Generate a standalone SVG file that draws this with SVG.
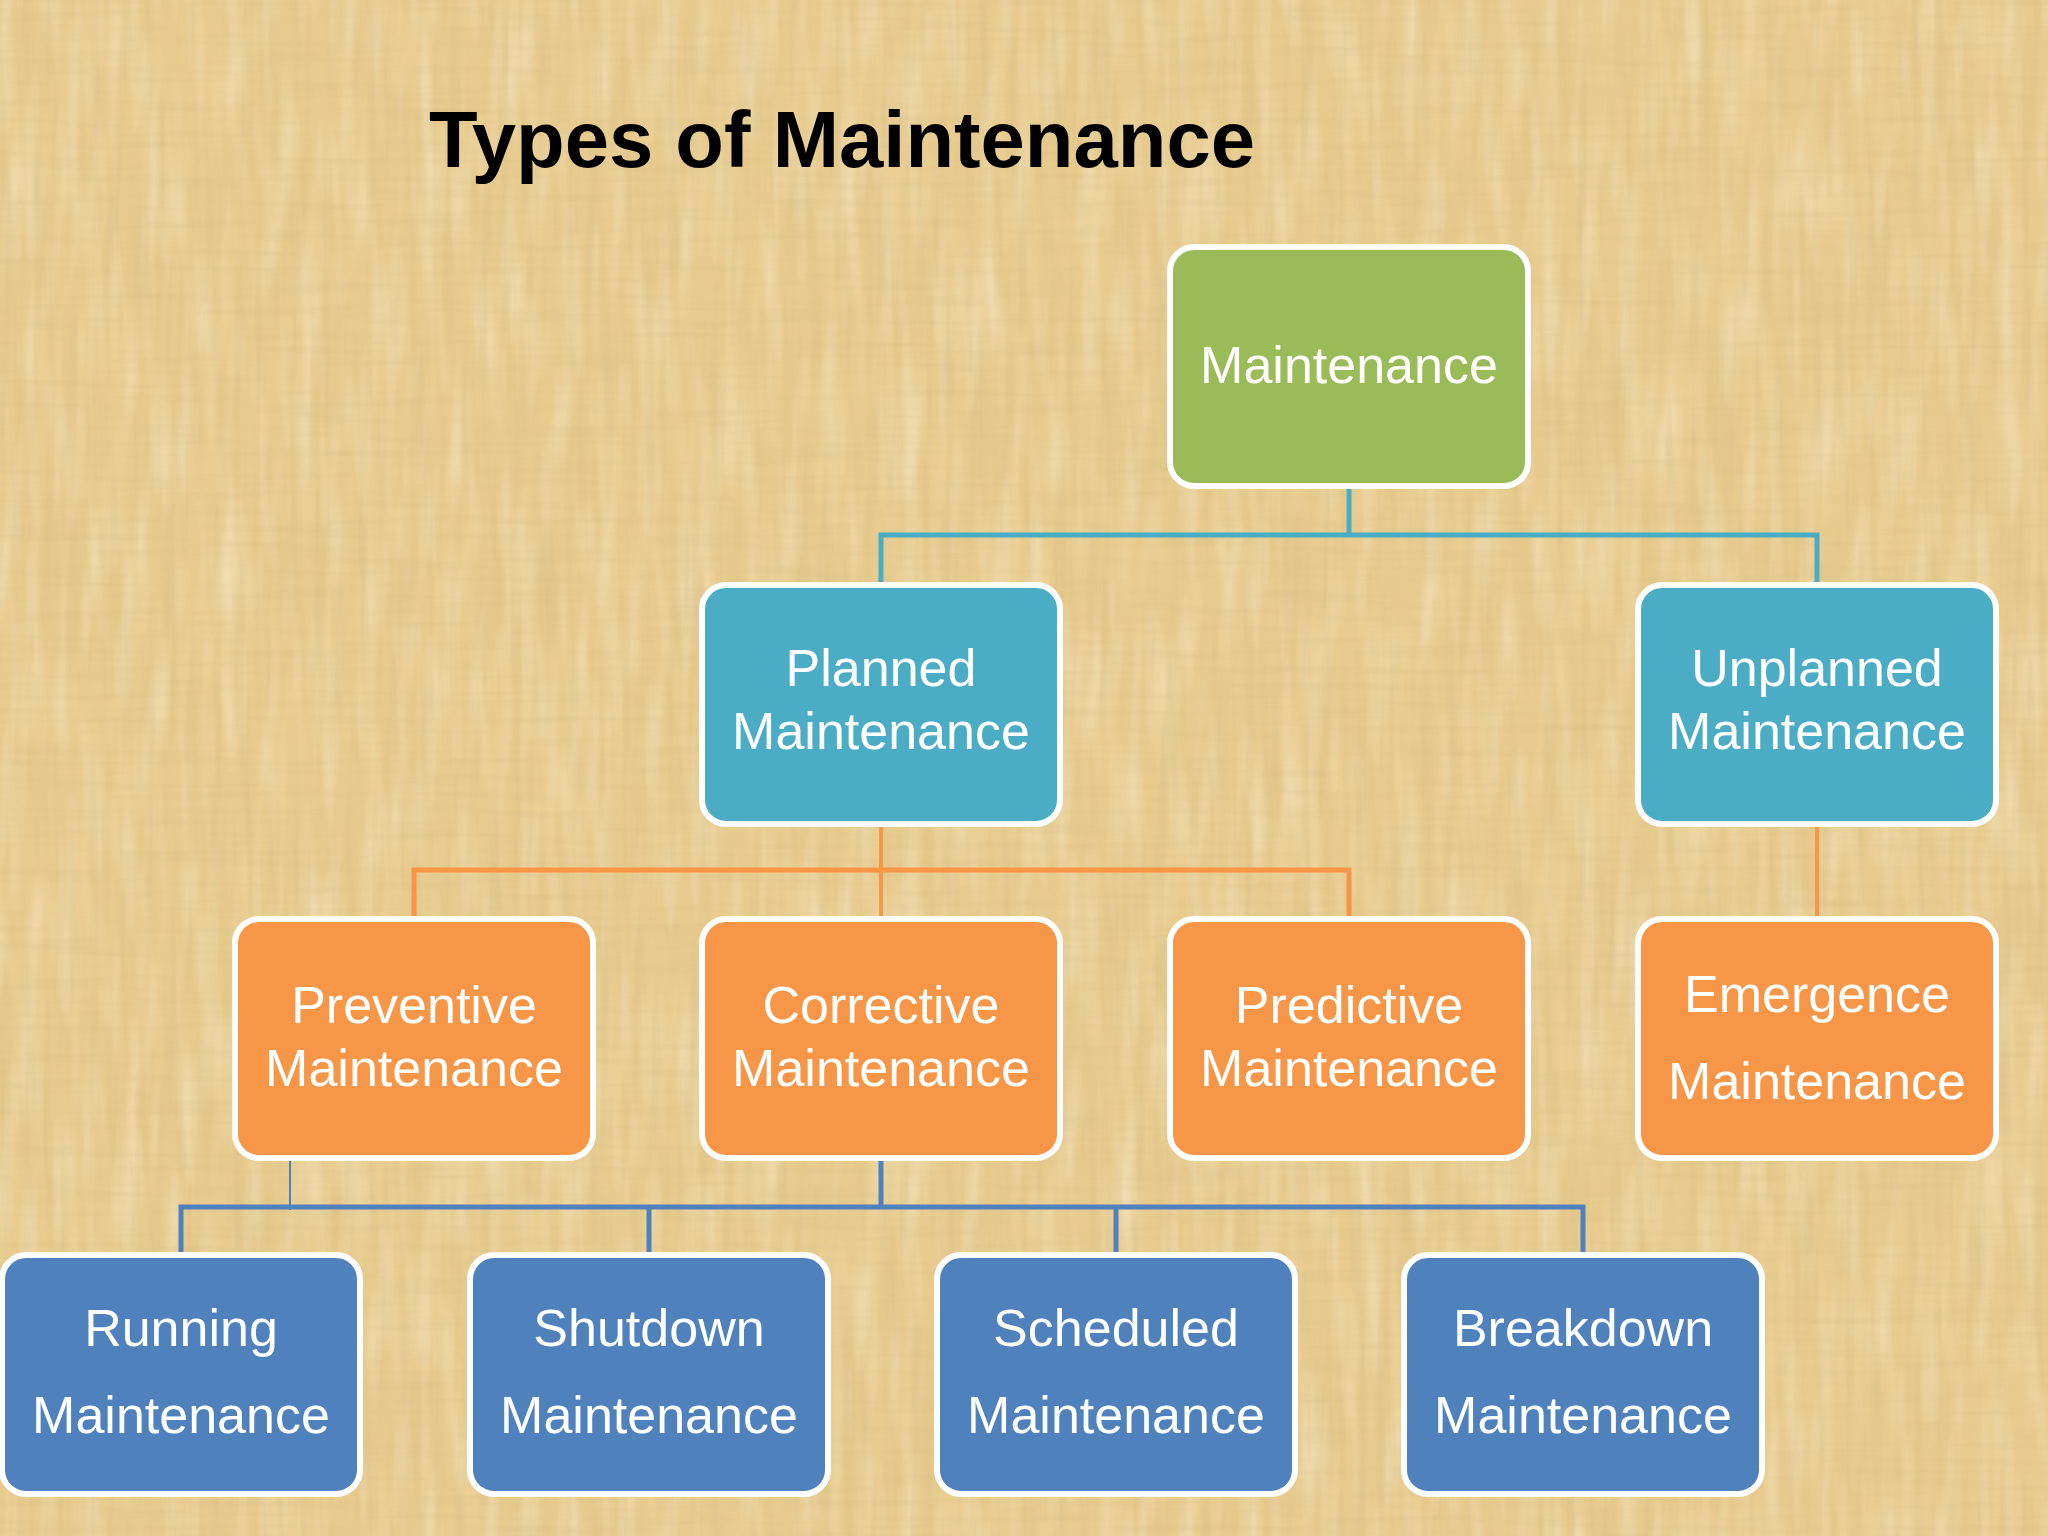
<svg xmlns="http://www.w3.org/2000/svg" width="2048" height="1536" viewBox="0 0 2048 1536">
<defs>
  <filter id="texDark" x="0" y="0" width="2048" height="1536" filterUnits="userSpaceOnUse">
    <feTurbulence type="fractalNoise" baseFrequency="0.09 0.006" numOctaves="3" seed="3"/>
    <feColorMatrix type="matrix" values="0 0 0 0 0.62  0 0 0 0 0.48  0 0 0 0 0.22  1.3 0 0 0 -0.55"/>
  </filter>
  <filter id="texHoriz" x="0" y="0" width="2048" height="1536" filterUnits="userSpaceOnUse">
    <feTurbulence type="fractalNoise" baseFrequency="0.008 0.12" numOctaves="2" seed="7"/>
    <feColorMatrix type="matrix" values="0 0 0 0 0.6  0 0 0 0 0.47  0 0 0 0 0.22  1.2 0 0 0 -0.55"/>
  </filter>
  <filter id="texLight" x="0" y="0" width="2048" height="1536" filterUnits="userSpaceOnUse">
    <feTurbulence type="fractalNoise" baseFrequency="0.05 0.008" numOctaves="2" seed="11"/>
    <feColorMatrix type="matrix" values="0 0 0 0 1  0 0 0 0 0.96  0 0 0 0 0.82  1.2 0 0 0 -0.5"/>
  </filter>
  <style>
    .box { stroke: #FFFFFF; stroke-width: 6; }
    .green { fill: #9BBB59; }
    .teal { fill: #4BACC6; }
    .orange { fill: #F79646; }
    .blue { fill: #4F81BD; }
    .lbl { font-family: "Liberation Sans", Arial, sans-serif; font-size: 52px; fill: #FFFFFF; text-anchor: middle; }
    .title { font-family: "Liberation Sans", Arial, sans-serif; font-size: 79px; font-weight: bold; fill: #000000; }
    .c-teal { fill: none; stroke: #4BACC6; stroke-width: 5; }
    .c-orange { fill: none; stroke: #F79646; stroke-width: 5; }
    .c-blue { fill: none; stroke: #4F81BD; stroke-width: 5; }
  </style>
</defs>

<g id="background">
  <rect x="0" y="0" width="2048" height="1536" fill="#E8CB8E"/>
  <rect x="0" y="0" width="2048" height="1536" filter="url(#texLight)" opacity="0.6"/>
  <rect x="0" y="0" width="2048" height="1536" filter="url(#texDark)" opacity="0.5"/>
  <rect x="0" y="0" width="2048" height="1536" filter="url(#texHoriz)" opacity="0.35"/>
</g>

<text class="title" x="429" y="167" textLength="826" lengthAdjust="spacingAndGlyphs">Types of Maintenance</text>

<g id="connectors">
  <path class="c-teal" d="M1349,489 V535 M881,582 V535 H1817 V582"/>
  <path class="c-orange" d="M414,916 V870 H1349 V916"/>
  <path class="c-orange" d="M881,824 V916" style="stroke-width:4"/>
  <path class="c-orange" d="M1817,824 V916" style="stroke-width:4"/>
  <path class="c-blue" d="M881,1161 V1207"/>
  <path class="c-blue" d="M181,1253 V1207 H1583 V1253 M649,1207 V1253 M1116,1207 V1253"/>
  <path class="c-blue" d="M290,1161 V1210" style="stroke-width:2"/>
</g>

<g id="maintenance">
  <rect class="box green" x="1170" y="247" width="358" height="239" rx="24"/>
  <text class="lbl" x="1349" y="383">Maintenance</text>
</g>

<g id="planned">
  <rect class="box teal" x="702" y="585" width="358" height="239" rx="24"/>
  <text class="lbl" x="881" y="686">Planned</text>
  <text class="lbl" x="881" y="749">Maintenance</text>
</g>

<g id="unplanned">
  <rect class="box teal" x="1638" y="585" width="358" height="239" rx="24"/>
  <text class="lbl" x="1817" y="686">Unplanned</text>
  <text class="lbl" x="1817" y="749">Maintenance</text>
</g>

<g id="preventive">
  <rect class="box orange" x="235" y="919" width="358" height="239" rx="24"/>
  <text class="lbl" x="414" y="1023">Preventive</text>
  <text class="lbl" x="414" y="1086">Maintenance</text>
</g>

<g id="corrective">
  <rect class="box orange" x="702" y="919" width="358" height="239" rx="24"/>
  <text class="lbl" x="881" y="1023">Corrective</text>
  <text class="lbl" x="881" y="1086">Maintenance</text>
</g>

<g id="predictive">
  <rect class="box orange" x="1170" y="919" width="358" height="239" rx="24"/>
  <text class="lbl" x="1349" y="1023">Predictive</text>
  <text class="lbl" x="1349" y="1086">Maintenance</text>
</g>

<g id="emergence">
  <rect class="box orange" x="1638" y="919" width="358" height="239" rx="24"/>
  <text class="lbl" x="1817" y="1012">Emergence</text>
  <text class="lbl" x="1817" y="1099">Maintenance</text>
</g>

<g id="running">
  <rect class="box blue" x="2" y="1255" width="358" height="239" rx="24"/>
  <text class="lbl" x="181" y="1346">Running</text>
  <text class="lbl" x="181" y="1433">Maintenance</text>
</g>

<g id="shutdown">
  <rect class="box blue" x="470" y="1255" width="358" height="239" rx="24"/>
  <text class="lbl" x="649" y="1346">Shutdown</text>
  <text class="lbl" x="649" y="1433">Maintenance</text>
</g>

<g id="scheduled">
  <rect class="box blue" x="937" y="1255" width="358" height="239" rx="24"/>
  <text class="lbl" x="1116" y="1346">Scheduled</text>
  <text class="lbl" x="1116" y="1433">Maintenance</text>
</g>

<g id="breakdown">
  <rect class="box blue" x="1404" y="1255" width="358" height="239" rx="24"/>
  <text class="lbl" x="1583" y="1346">Breakdown</text>
  <text class="lbl" x="1583" y="1433">Maintenance</text>
</g>
</svg>
